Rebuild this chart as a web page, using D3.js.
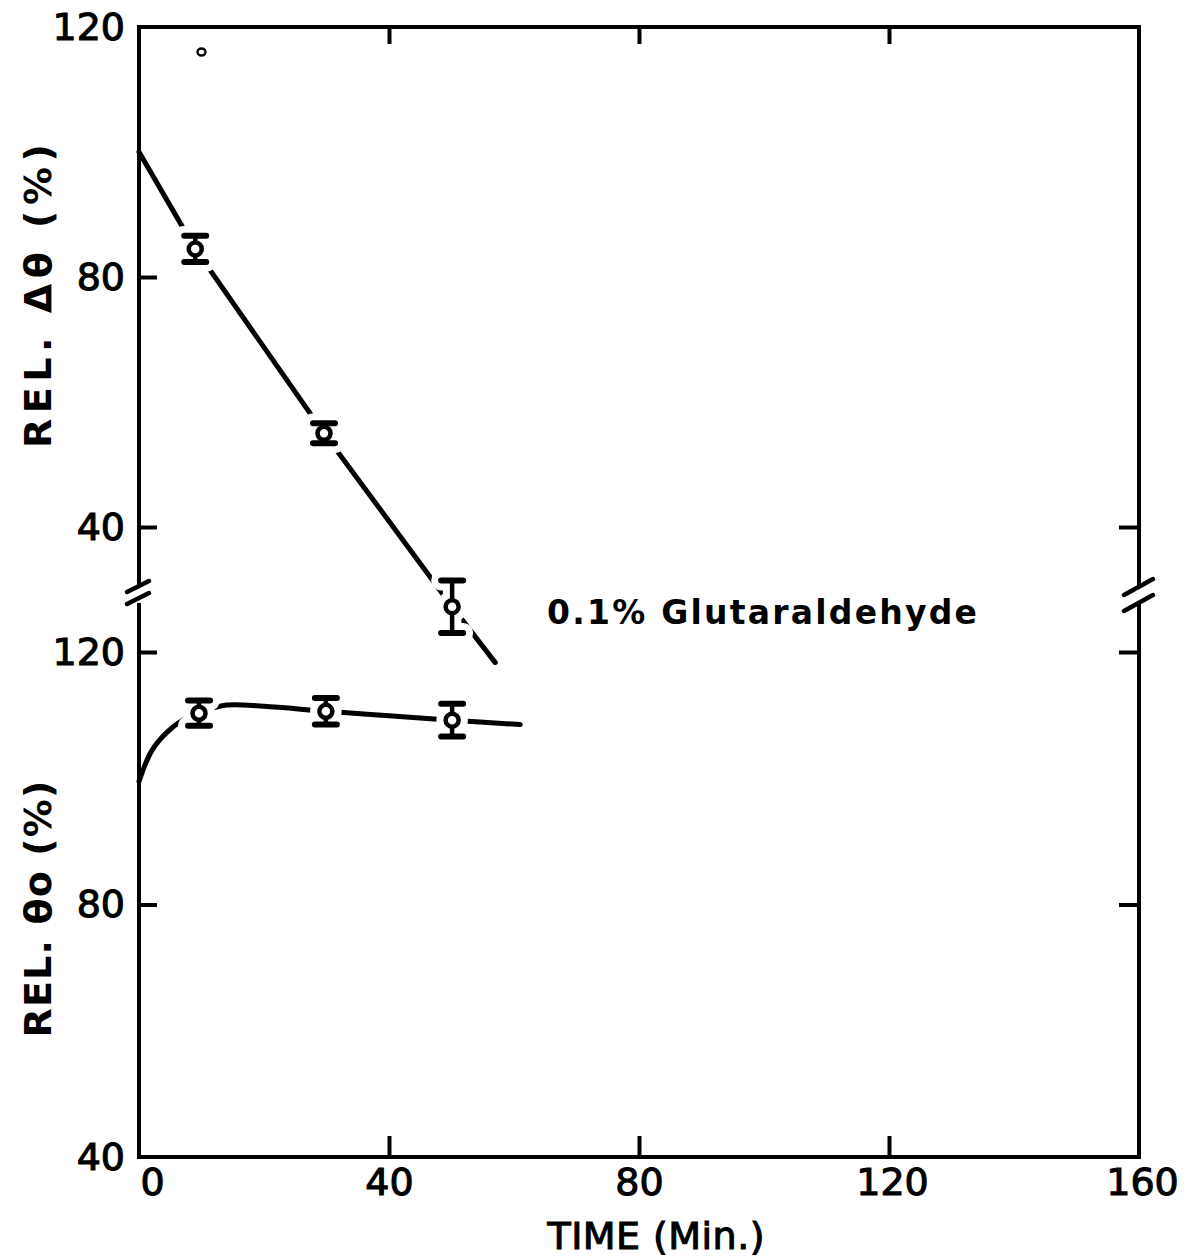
<!DOCTYPE html>
<html>
<head>
<meta charset="utf-8">
<script src="https://cdn.jsdelivr.net/npm/d3@7/dist/d3.min.js"></script>
<style>
  html, body { margin: 0; padding: 0; background: #fff; }
  svg { display: block; }
  text { font-family: "DejaVu Sans", "Liberation Sans", sans-serif; fill: #000; }
</style>
</head>
<body>
<svg id="chart" width="1186" height="1260"></svg>
<script>
// ---- data -------------------------------------------------------------
// Upper panel: relative Δθ (%) measured points with error half-widths
const deltaTime  = [9, 29.6, 50.1];
const deltaValue = [84.5, 55.0, 27.25];
const deltaError = [2.1, 1.6, 4.2];
// Upper panel fitted line (time, value)
const deltaFitTime  = [0, 9, 29.6, 50.1, 57];
const deltaFitValue = [100, 84.5, 55.0, 27.25, 18.3];
// isolated small mark near the top of the upper panel
const deltaStrayTime  = [10];
const deltaStrayValue = [116];

// Lower panel: relative θo (%) measured points with error half-widths
const thetaTime  = [9.6, 29.9, 50.1];
const thetaValue = [110.3, 110.6, 109.2];
const thetaError = [2.0, 2.1, 2.6];
// Lower panel fitted curve
const thetaFitTime  = [0, 2, 4.5, 7, 9.6, 14, 20, 30, 40, 50, 61];
const thetaFitValue = [99.5, 104.3, 107.3, 109.2, 110.4, 111.6, 111.4, 110.6, 109.9, 109.2, 108.5];

// ticks
const timeTicks   = [0, 40, 80, 120, 160];
const deltaTicks  = [40, 80, 120];
const thetaTicks  = [40, 80, 120];

const annotation = "0.1% Glutaraldehyde";

// ---- layout -----------------------------------------------------------
const svg = d3.select("#chart");
const plotL = 139, plotR = 1139, plotT = 27, plotB = 1157;
const breakY = 595;
const AXIS_W = 4;
const INK = 1.1; // extra stroke on lettering for a heavier pen look

const x = d3.scaleLinear().domain([0, 160]).range([plotL, plotR]);
const yTop = d3.scaleLinear().domain([40, 120]).range([527, plotT]);
const yBot = d3.scaleLinear().domain([40, 120]).range([plotB, 652]);

svg.append("rect").attr("width", 1186).attr("height", 1260).attr("fill", "#fff");

const frame = svg.append("g")
  .attr("stroke", "#000").attr("stroke-width", AXIS_W)
  .attr("fill", "none").attr("stroke-linecap", "square");

// top and bottom borders
frame.append("line").attr("x1", plotL).attr("x2", plotR).attr("y1", plotT).attr("y2", plotT);
frame.append("line").attr("x1", plotL).attr("x2", plotR).attr("y1", plotB).attr("y2", plotB);
// side borders, broken around the panel split
[plotL, plotR].forEach(xx => {
  frame.append("line").attr("x1", xx).attr("x2", xx).attr("y1", plotT).attr("y2", breakY - 12);
  frame.append("line").attr("x1", xx).attr("x2", xx).attr("y1", breakY + 10).attr("y2", plotB);
});

// break marks
const brk = svg.append("g").attr("stroke", "#000").attr("stroke-width", 4.5).attr("stroke-linecap", "round");
[-4, 8].forEach(dy => {
  brk.append("line").attr("x1", plotL - 12).attr("y1", breakY + dy + 1)
    .attr("x2", plotL + 10).attr("y2", breakY + dy - 10);
});
[-2, 14].forEach(dy => {
  brk.append("line").attr("x1", plotR - 15).attr("y1", breakY + dy + 2)
    .attr("x2", plotR + 14).attr("y2", breakY + dy - 14);
});

// ---- axes -------------------------------------------------------------
function styleAxis(g) {
  g.select(".domain").remove();
  g.selectAll(".tick line").attr("stroke", "#000").attr("stroke-width", AXIS_W);
  g.selectAll(".tick text").attr("font-size", 38).attr("fill", "#000")
    .attr("stroke", "#000").attr("stroke-width", INK)
    .attr("font-family", "DejaVu Sans, sans-serif");
}

// left: upper panel
svg.append("g").attr("transform", `translate(${plotL},0)`)
  .call(d3.axisLeft(yTop).tickValues(deltaTicks).tickSize(-18).tickPadding(14).tickFormat(d3.format("d")))
  .call(styleAxis)
  .call(g => g.selectAll(".tick").filter(d => d === 120).select("line").remove());

// left: lower panel
svg.append("g").attr("transform", `translate(${plotL},0)`)
  .call(d3.axisLeft(yBot).tickValues(thetaTicks).tickSize(-18).tickPadding(14).tickFormat(d3.format("d")))
  .call(styleAxis)
  .call(g => g.selectAll(".tick").filter(d => d === 40).select("line").remove());

// right side inner ticks
svg.append("g").attr("transform", `translate(${plotR},0)`)
  .call(d3.axisRight(yTop).tickValues([40]).tickSize(-20).tickFormat(""))
  .call(styleAxis);
svg.append("g").attr("transform", `translate(${plotR},0)`)
  .call(d3.axisRight(yBot).tickValues([80, 120]).tickSize(-20).tickFormat(""))
  .call(styleAxis);

// bottom axis
const xAxisG = svg.append("g").attr("transform", `translate(0,${plotB})`)
  .call(d3.axisBottom(x).tickValues(timeTicks).tickSize(-21).tickPadding(11).tickFormat(d3.format("d")))
  .call(styleAxis);
xAxisG.selectAll(".tick").filter(d => d === 0 || d === 160).select("line").remove();
xAxisG.selectAll(".tick").filter(d => d === 0).select("text").attr("dx", 13);
xAxisG.selectAll(".tick").filter(d => d === 120 || d === 160).select("text").attr("dx", 3);

// top axis ticks
svg.append("g").attr("transform", `translate(0,${plotT})`)
  .call(d3.axisTop(x).tickValues([40, 80, 120]).tickSize(-17).tickFormat(""))
  .call(styleAxis);

// axis titles
const titleStyle = sel => sel.attr("font-size", 38).attr("font-weight", "bold")
  .attr("lengthAdjust", "spacing");

svg.append("text")
  .attr("transform", "translate(51,296) rotate(-90)")
  .attr("text-anchor", "middle").attr("textLength", 304)
  .call(titleStyle)
  .text("REL. Δθ (%)");

svg.append("text")
  .attr("transform", "translate(51,909) rotate(-90)")
  .attr("text-anchor", "middle").attr("textLength", 257)
  .call(titleStyle)
  .text("REL. θo (%)");

svg.append("text")
  .attr("x", 656).attr("y", 1249)
  .attr("text-anchor", "middle").attr("textLength", 217)
  .attr("font-size", 38).attr("lengthAdjust", "spacing")
  .attr("stroke", "#000").attr("stroke-width", INK)
  .text("TIME (Min.)");

svg.append("text")
  .attr("x", 547).attr("y", 624)
  .attr("font-size", 33).attr("font-weight", "bold")
  .attr("textLength", 430).attr("lengthAdjust", "spacing")
  .text(annotation);

// ---- data marks -------------------------------------------------------
const lineStyle = sel => sel.attr("fill", "none").attr("stroke", "#000")
  .attr("stroke-width", 5).attr("stroke-linecap", "round").attr("stroke-linejoin", "round");

const deltaFit = deltaFitTime.map((t, i) => [t, deltaFitValue[i]]);
svg.append("path")
  .attr("d", d3.line().x(d => x(d[0])).y(d => yTop(d[1]))(deltaFit))
  .call(lineStyle);

const thetaFit = thetaFitTime.map((t, i) => [t, thetaFitValue[i]]);
svg.append("path")
  .attr("d", d3.line().curve(d3.curveCatmullRom.alpha(0.5)).x(d => x(d[0])).y(d => yBot(d[1]))(thetaFit))
  .call(lineStyle);

// markers: open circle with capped error bar; a white halo opens a gap in the line
function drawMarkers(times, values, errors, yScale) {
  const pts = times.map((t, i) => ({ t, v: values[i], e: errors[i] }));
  const capW = 11;
  [["#fff", 14], ["#000", 0]].forEach(([col, extra]) => {
    const g = svg.append("g").selectAll("g").data(pts).join("g")
      .attr("transform", d => `translate(${x(d.t)},0)`);
    g.append("line")
      .attr("x1", 0).attr("x2", 0)
      .attr("y1", d => yScale(d.v + d.e)).attr("y2", d => yScale(d.v - d.e))
      .attr("stroke", col).attr("stroke-width", 4.5 + extra).attr("stroke-linecap", "round");
    ["+", "-"].forEach(sign => {
      g.append("line")
        .attr("x1", -capW).attr("x2", capW)
        .attr("y1", d => yScale(sign === "+" ? d.v + d.e : d.v - d.e))
        .attr("y2", d => yScale(sign === "+" ? d.v + d.e : d.v - d.e))
        .attr("stroke", col).attr("stroke-width", 6 + extra).attr("stroke-linecap", "round");
    });
    g.append("circle")
      .attr("cy", d => yScale(d.v)).attr("r", 6.5)
      .attr("fill", "#fff").attr("stroke", col).attr("stroke-width", 4.5 + extra);
  });
}
drawMarkers(deltaTime, deltaValue, deltaError, yTop);
drawMarkers(thetaTime, thetaValue, thetaError, yBot);

// small isolated mark
svg.append("g").selectAll("ellipse")
  .data(deltaStrayTime.map((t, i) => [t, deltaStrayValue[i]]))
  .join("ellipse")
  .attr("cx", d => x(d[0])).attr("cy", d => yTop(d[1]))
  .attr("rx", 4).attr("ry", 3.5)
  .attr("fill", "#fff").attr("stroke", "#000").attr("stroke-width", 2.4);
</script>
</body>
</html>
